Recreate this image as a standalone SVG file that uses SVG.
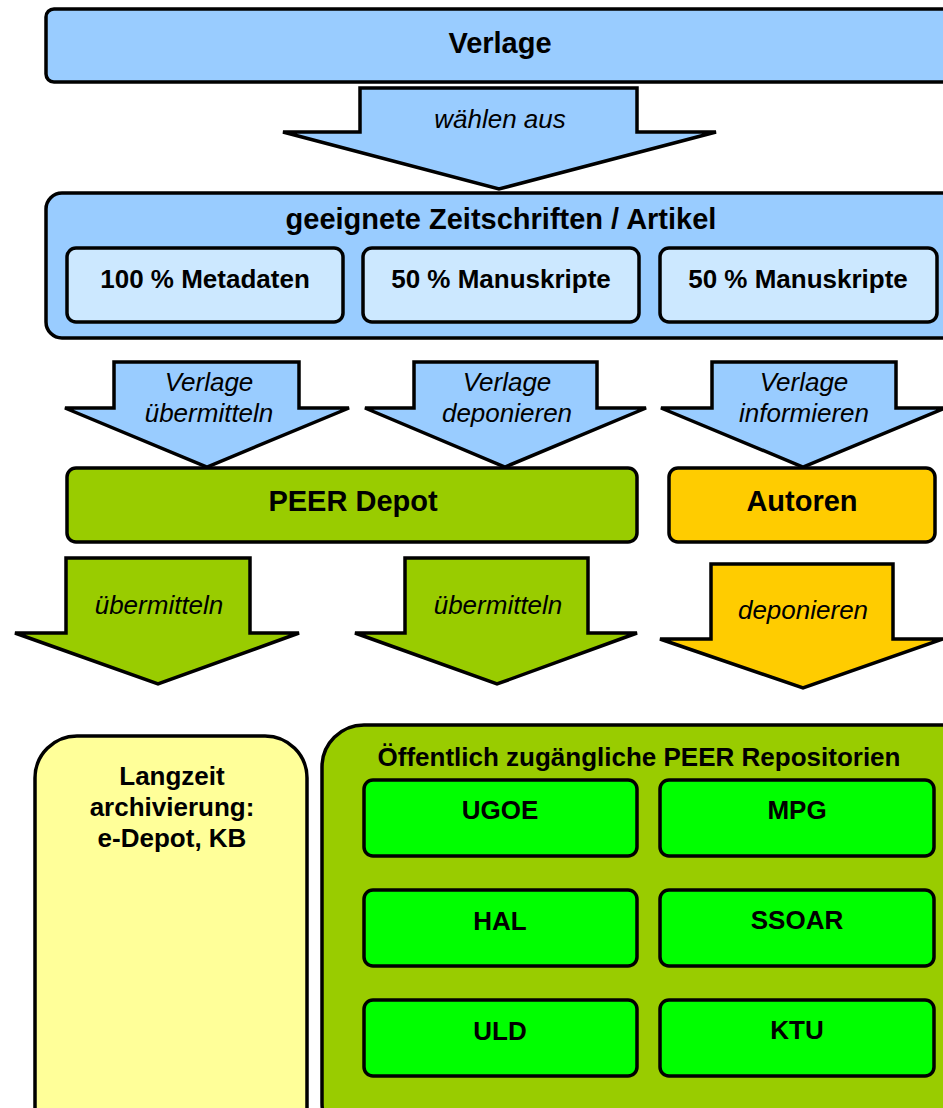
<svg xmlns="http://www.w3.org/2000/svg" width="943" height="1108" viewBox="0 0 943 1108">
<style>
.box{stroke:#000;stroke-width:3.5}
.arr{stroke:#000;stroke-width:3.5;stroke-linejoin:miter}
.b{font-family:"Liberation Sans",Arial,sans-serif;font-weight:bold;fill:#000;text-anchor:middle}
.i{font-family:"Liberation Sans",Arial,sans-serif;font-style:italic;font-size:26px;fill:#000;text-anchor:middle}
.big{font-size:29px}
.sm{font-size:26px}
.blue{fill:#99ccff}
.lblue{fill:#cce8ff}
.olive{fill:#99cc00}
.gold{fill:#ffcc00}
.lyel{fill:#ffff99}
.lime{fill:#00ff00}
</style>
<rect width="943" height="1108" fill="#fff"/>
<g id="verlage">
<rect class="box blue" x="46" y="9" width="920" height="73" rx="8"/>
<text class="b big" x="500" y="53">Verlage</text>
</g>
<g id="zeitschriften">
<rect class="box blue" x="46" y="193" width="920" height="145" rx="16"/>
<text class="b big" x="501" y="229">geeignete Zeitschriften / Artikel</text>
</g>
<g id="metadaten">
<rect class="box lblue" x="67" y="248" width="276" height="74" rx="9"/>
<text class="b sm" x="205" y="288">100 % Metadaten</text>
</g>
<g id="manuskripte1">
<rect class="box lblue" x="363" y="248" width="276" height="74" rx="9"/>
<text class="b sm" x="501" y="288">50 % Manuskripte</text>
</g>
<g id="manuskripte2">
<rect class="box lblue" x="660" y="248" width="277" height="74" rx="9"/>
<text class="b sm" x="798" y="288">50 % Manuskripte</text>
</g>
<g id="peerdepot">
<rect class="box olive" x="67" y="468" width="570" height="74" rx="9"/>
<text class="b big" x="353" y="511">PEER Depot</text>
</g>
<g id="autoren">
<rect class="box gold" x="669" y="468" width="266" height="74" rx="9"/>
<text class="b big" x="802" y="511">Autoren</text>
</g>
<g id="langzeit">
<rect class="box lyel" x="35" y="736" width="272" height="420" rx="42"/>
<text class="b sm" x="172" y="785">Langzeit</text>
<text class="b sm" x="172" y="816">archivierung:</text>
<text class="b sm" x="172" y="847">e-Depot, KB</text>
</g>
<g id="repositorien">
<rect class="box olive" x="322" y="725" width="660" height="420" rx="42"/>
<text class="b sm" x="639" y="766">Öffentlich zugängliche PEER Repositorien</text>
</g>
<g id="ugoe">
<rect class="box lime" x="364" y="780" width="273" height="76" rx="9"/>
<text class="b sm" x="500" y="819">UGOE</text>
</g>
<g id="mpg">
<rect class="box lime" x="660" y="780" width="274" height="76" rx="9"/>
<text class="b sm" x="797" y="819">MPG</text>
</g>
<g id="hal">
<rect class="box lime" x="364" y="890" width="273" height="76" rx="9"/>
<text class="b sm" x="500" y="930">HAL</text>
</g>
<g id="ssoar">
<rect class="box lime" x="660" y="890" width="274" height="76" rx="9"/>
<text class="b sm" x="797" y="929">SSOAR</text>
</g>
<g id="uld">
<rect class="box lime" x="364" y="1000" width="273" height="76" rx="9"/>
<text class="b sm" x="500" y="1040">ULD</text>
</g>
<g id="ktu">
<rect class="box lime" x="660" y="1000" width="274" height="76" rx="9"/>
<text class="b sm" x="797" y="1039">KTU</text>
</g>
<g id="connectors">
<polygon class="arr blue" points="360,88 637,88 637,132 716,132 499,189 283,132 360,132"/>
<text class="i" x="500" y="128">wählen aus</text>
<polygon class="arr blue" points="114,362 299,362 299,408 349,408 207,467 65,408 114,408"/>
<text class="i" x="209" y="391">Verlage</text>
<text class="i" x="209" y="422">übermitteln</text>
<polygon class="arr blue" points="414,362 597,362 597,408 646,408 505,467 365,408 414,408"/>
<text class="i" x="507" y="391">Verlage</text>
<text class="i" x="507" y="422">deponieren</text>
<polygon class="arr blue" points="712,362 896,362 896,408 945,408 803,467 661,408 712,408"/>
<text class="i" x="804" y="391">Verlage</text>
<text class="i" x="804" y="422">informieren</text>
<polygon class="arr olive" points="66,558 250,558 250,633 299,633 158,684 15,633 66,633"/>
<text class="i" x="159" y="614">übermitteln</text>
<polygon class="arr olive" points="405,558 588,558 588,633 637,633 497,684 355,633 405,633"/>
<text class="i" x="498" y="614">übermitteln</text>
<polygon class="arr gold" points="711,564 893,564 893,639 943,639 803,688 660,639 711,639"/>
<text class="i" x="803" y="619">deponieren</text>
</g>
</svg>
